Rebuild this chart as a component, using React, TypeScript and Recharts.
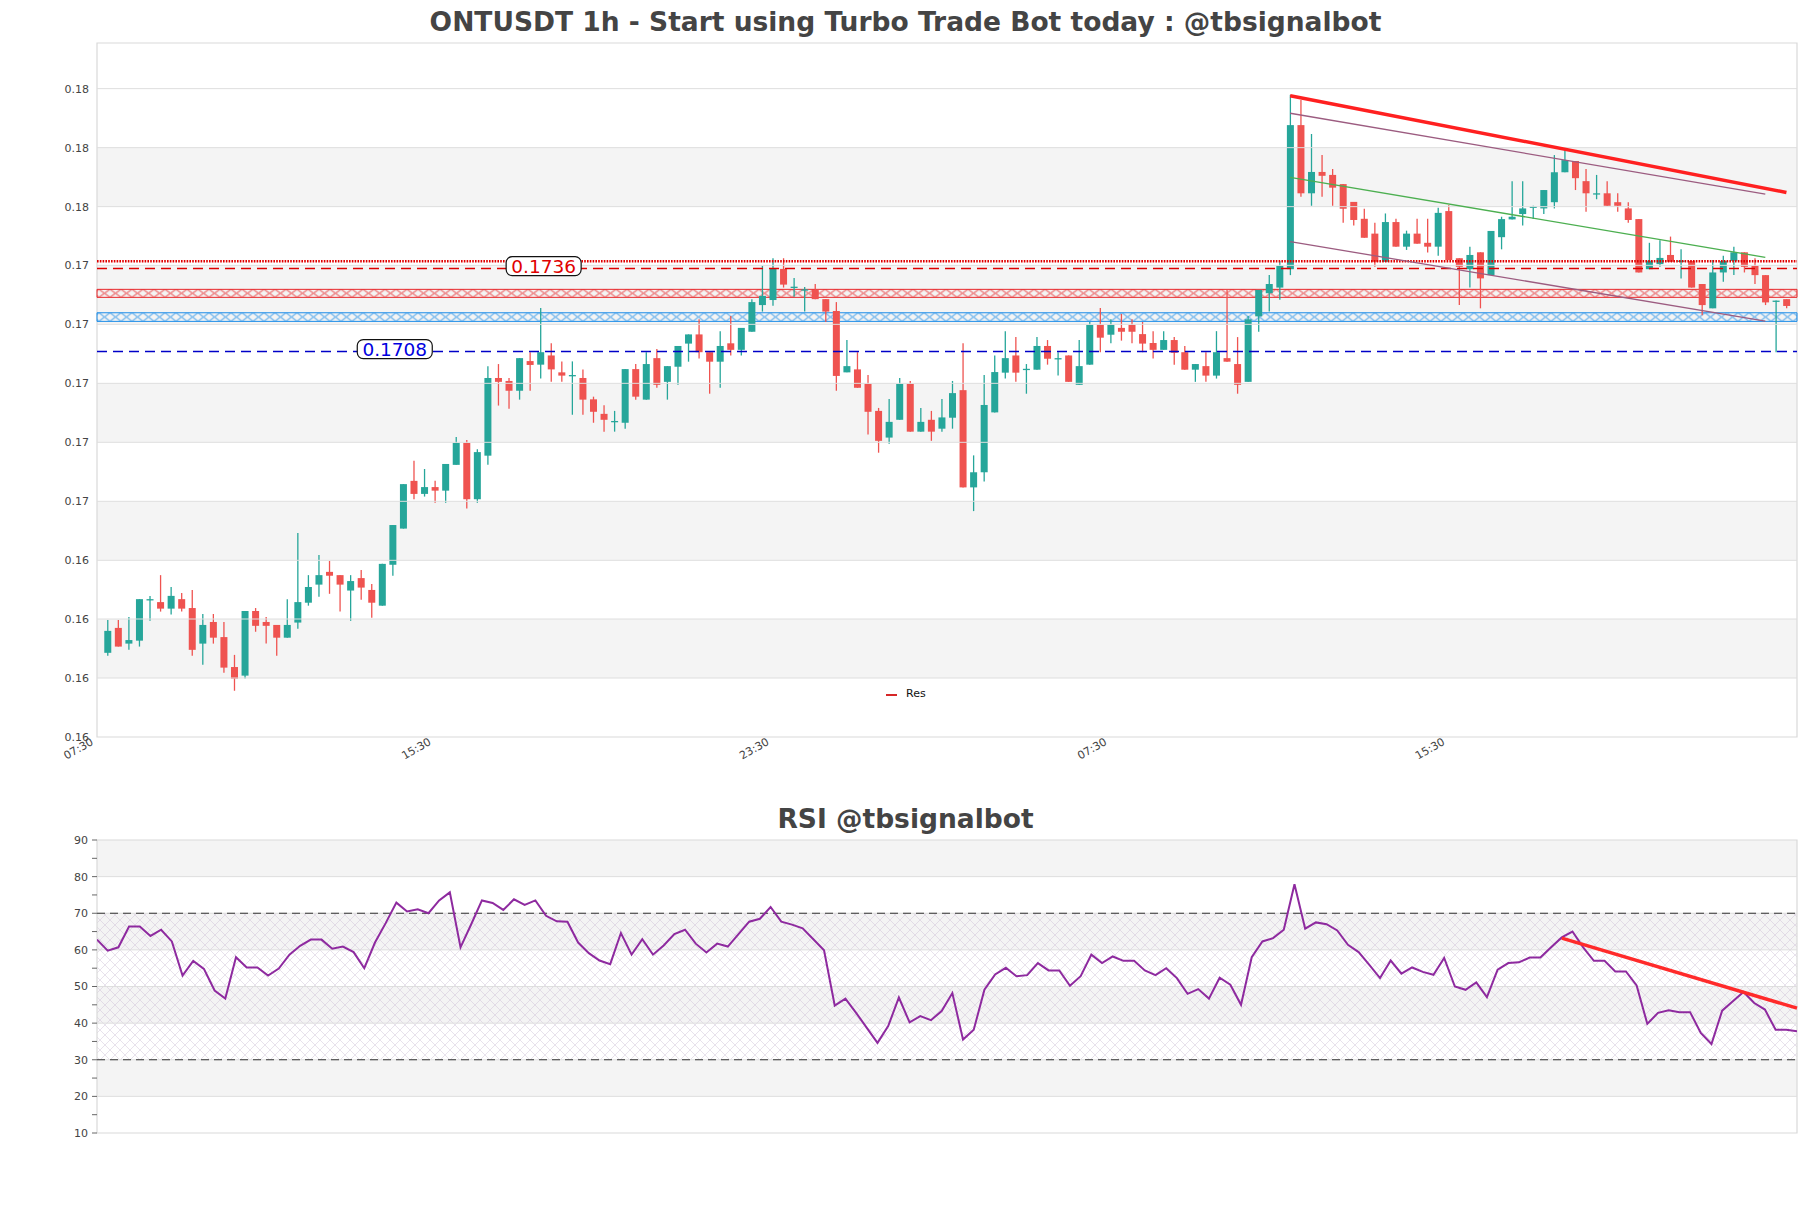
import React from 'react';
import {
  ComposedChart,
  Bar,
  Line,
  XAxis,
  YAxis,
  ReferenceArea,
  ReferenceLine,
  ReferenceDot,
} from 'recharts';

const FONT = '"DejaVu Sans", "Liberation Sans", sans-serif';
const UP = '#26a69a';
const DOWN = '#ef5350';

// ONTUSDT 1h candles, index 1..160 (index 0 = first 07:30 tick)
const OPEN = [
  0.16064, 0.16148, 0.16095, 0.16105, 0.16242, 0.16235, 0.16213, 0.16245, 0.16215, 0.16095,
  0.16168, 0.16117, 0.16016, 0.15987, 0.16205, 0.16168, 0.16158, 0.16115, 0.16166, 0.16233,
  0.16294, 0.16337, 0.16326, 0.16274, 0.16316, 0.16276, 0.16223, 0.16361, 0.16483, 0.16644,
  0.16600, 0.16623, 0.16611, 0.16698, 0.16772, 0.16582, 0.16729, 0.16991, 0.16981, 0.16948,
  0.17048, 0.17036, 0.17067, 0.17010, 0.17000, 0.16991, 0.16919, 0.16870, 0.16844, 0.16840,
  0.17021, 0.16918, 0.17058, 0.16978, 0.17029, 0.17107, 0.17138, 0.17078, 0.17046, 0.17108,
  0.17086, 0.17147, 0.17237, 0.17254, 0.17359, 0.17298, 0.17288, 0.17288, 0.17257, 0.17217,
  0.17010, 0.17020, 0.16971, 0.16880, 0.16790, 0.16850, 0.16971, 0.16810, 0.16850, 0.16820,
  0.16857, 0.16950, 0.16622, 0.16673, 0.16875, 0.17009, 0.17067, 0.17020, 0.17019, 0.17099,
  0.17057, 0.17067, 0.16968, 0.17036, 0.17170, 0.17137, 0.17160, 0.17170, 0.17139, 0.17109,
  0.17086, 0.17119, 0.17078, 0.17019, 0.17031, 0.16999, 0.17058, 0.17038, 0.16978, 0.17199,
  0.17277, 0.17296, 0.17358, 0.17844, 0.17614, 0.17686, 0.17676, 0.17645, 0.17585, 0.17528,
  0.17478, 0.17383, 0.17517, 0.17434, 0.17478, 0.17447, 0.17434, 0.17554, 0.17395, 0.17358,
  0.17415, 0.17338, 0.17466, 0.17526, 0.17544, 0.17568, 0.17563, 0.17584, 0.17685, 0.17723,
  0.17655, 0.17613, 0.17614, 0.17584, 0.17563, 0.17527, 0.17358, 0.17375, 0.17406, 0.17386,
  0.17386, 0.17308, 0.17226, 0.17347, 0.17386, 0.17415, 0.17369, 0.17338, 0.17251, 0.17257,
];
const HIGH = [
  0.16175, 0.16175, 0.16185, 0.16245, 0.16256, 0.16326, 0.16286, 0.16266, 0.16276, 0.16195,
  0.16195, 0.16168, 0.16057, 0.16205, 0.16215, 0.16185, 0.16158, 0.16245, 0.16468, 0.16326,
  0.16394, 0.16374, 0.16326, 0.16326, 0.16343, 0.16296, 0.16364, 0.16495, 0.16633, 0.16712,
  0.16684, 0.16644, 0.16701, 0.16792, 0.16782, 0.16751, 0.17031, 0.17038, 0.16991, 0.17058,
  0.17078, 0.17227, 0.17108, 0.17047, 0.17047, 0.17020, 0.16928, 0.16899, 0.16880, 0.17021,
  0.17038, 0.17078, 0.17089, 0.17031, 0.17099, 0.17138, 0.17189, 0.17078, 0.17149, 0.17200,
  0.17160, 0.17257, 0.17369, 0.17395, 0.17395, 0.17328, 0.17298, 0.17308, 0.17257, 0.17247,
  0.17119, 0.17078, 0.17001, 0.16890, 0.16920, 0.16991, 0.16981, 0.16890, 0.16880, 0.16920,
  0.16981, 0.17108, 0.16730, 0.17001, 0.17067, 0.17149, 0.17129, 0.17038, 0.17129, 0.17119,
  0.17078, 0.17067, 0.17119, 0.17180, 0.17227, 0.17189, 0.17207, 0.17189, 0.17180, 0.17149,
  0.17149, 0.17129, 0.17099, 0.17038, 0.17078, 0.17149, 0.17288, 0.17129, 0.17200, 0.17288,
  0.17338, 0.17386, 0.17946, 0.17929, 0.17814, 0.17743, 0.17696, 0.17645, 0.17585, 0.17562,
  0.17515, 0.17546, 0.17528, 0.17488, 0.17528, 0.17528, 0.17565, 0.17574, 0.17395, 0.17434,
  0.17415, 0.17487, 0.17535, 0.17655, 0.17655, 0.17572, 0.17625, 0.17743, 0.17760, 0.17723,
  0.17696, 0.17676, 0.17655, 0.17614, 0.17584, 0.17527, 0.17447, 0.17456, 0.17468, 0.17425,
  0.17386, 0.17308, 0.17389, 0.17403, 0.17434, 0.17415, 0.17395, 0.17338, 0.17252, 0.17257,
];
const LOW = [
  0.16054, 0.16085, 0.16074, 0.16085, 0.16172, 0.16203, 0.16193, 0.16203, 0.16054, 0.16024,
  0.16095, 0.15997, 0.15936, 0.15977, 0.16135, 0.16095, 0.16054, 0.16115, 0.16145, 0.16223,
  0.16253, 0.16263, 0.16203, 0.16172, 0.16243, 0.16182, 0.16223, 0.16324, 0.16483, 0.16582,
  0.16591, 0.16570, 0.16570, 0.16698, 0.16551, 0.16570, 0.16698, 0.16898, 0.16887, 0.16918,
  0.16948, 0.16989, 0.16978, 0.16978, 0.16867, 0.16867, 0.16840, 0.16810, 0.16810, 0.16820,
  0.16918, 0.16918, 0.16958, 0.16918, 0.16968, 0.17046, 0.17057, 0.16938, 0.16958, 0.17067,
  0.17067, 0.17147, 0.17215, 0.17235, 0.17296, 0.17265, 0.17215, 0.17257, 0.17180, 0.16948,
  0.17010, 0.16958, 0.16800, 0.16739, 0.16769, 0.16850, 0.16810, 0.16810, 0.16779, 0.16810,
  0.16820, 0.16622, 0.16542, 0.16642, 0.16875, 0.16989, 0.16978, 0.16938, 0.17019, 0.17036,
  0.16999, 0.16978, 0.16968, 0.17036, 0.17078, 0.17108, 0.17117, 0.17108, 0.17078, 0.17057,
  0.17086, 0.17036, 0.17019, 0.16978, 0.16978, 0.16989, 0.17046, 0.16938, 0.16978, 0.17147,
  0.17215, 0.17255, 0.17338, 0.17602, 0.17572, 0.17602, 0.17572, 0.17515, 0.17505, 0.17464,
  0.17366, 0.17383, 0.17434, 0.17423, 0.17444, 0.17414, 0.17403, 0.17389, 0.17237, 0.17296,
  0.17226, 0.17338, 0.17425, 0.17526, 0.17505, 0.17527, 0.17544, 0.17563, 0.17685, 0.17625,
  0.17552, 0.17594, 0.17572, 0.17552, 0.17515, 0.17347, 0.17358, 0.17366, 0.17383, 0.17327,
  0.17296, 0.17203, 0.17226, 0.17316, 0.17338, 0.17347, 0.17308, 0.17237, 0.17078, 0.17226,
];
const CLOSE = [
  0.16138, 0.16085, 0.16107, 0.16245, 0.16245, 0.16213, 0.16256, 0.16213, 0.16074, 0.16158,
  0.16115, 0.16014, 0.15977, 0.16205, 0.16155, 0.16155, 0.16115, 0.16158, 0.16235, 0.16286,
  0.16326, 0.16324, 0.16294, 0.16306, 0.16284, 0.16233, 0.16364, 0.16495, 0.16633, 0.16600,
  0.16623, 0.16611, 0.16701, 0.16772, 0.16582, 0.16741, 0.16991, 0.16978, 0.16948, 0.17058,
  0.17035, 0.17078, 0.17020, 0.16999, 0.17001, 0.16918, 0.16877, 0.16850, 0.16846, 0.17021,
  0.16928, 0.17038, 0.16968, 0.17031, 0.17099, 0.17138, 0.17078, 0.17046, 0.17099, 0.17086,
  0.17160, 0.17247, 0.17268, 0.17359, 0.17306, 0.17299, 0.17290, 0.17257, 0.17215, 0.16998,
  0.17031, 0.16958, 0.16877, 0.16779, 0.16843, 0.16971, 0.16810, 0.16843, 0.16810, 0.16858,
  0.16940, 0.16622, 0.16673, 0.16900, 0.17011, 0.17058, 0.17009, 0.17022, 0.17099, 0.17056,
  0.17058, 0.16978, 0.17031, 0.17170, 0.17127, 0.17170, 0.17147, 0.17147, 0.17107, 0.17086,
  0.17119, 0.17076, 0.17019, 0.17038, 0.16999, 0.17078, 0.17046, 0.16968, 0.17189, 0.17288,
  0.17308, 0.17369, 0.17844, 0.17614, 0.17686, 0.17673, 0.17633, 0.17562, 0.17524, 0.17464,
  0.17383, 0.17517, 0.17434, 0.17478, 0.17444, 0.17434, 0.17548, 0.17389, 0.17366, 0.17406,
  0.17327, 0.17487, 0.17527, 0.17535, 0.17563, 0.17569, 0.17625, 0.17685, 0.17726, 0.17665,
  0.17614, 0.17614, 0.17572, 0.17572, 0.17524, 0.17347, 0.17387, 0.17396, 0.17383, 0.17387,
  0.17296, 0.17237, 0.17347, 0.17386, 0.17415, 0.17366, 0.17338, 0.17246, 0.17252, 0.17234,
];

const RSI = [
  62.8, 59.8, 60.7, 66.4, 66.4, 63.8, 65.5, 62.3, 53.0, 57.0,
  54.8, 48.9, 46.7, 58.0, 55.2, 55.2, 53.0, 54.9, 58.7, 61.1,
  62.8, 62.8, 60.3, 60.9, 59.4, 55.0, 62.0, 67.3, 72.9, 70.5,
  71.1, 70.0, 73.5, 75.7, 60.7, 67.0, 73.5, 72.8, 70.9, 73.8,
  72.3, 73.5, 69.3, 67.8, 67.7, 62.0, 59.1, 57.1, 56.1, 64.6,
  58.7, 62.9, 58.7, 61.2, 64.3, 65.5, 61.7, 59.3, 61.7, 60.9,
  64.3, 67.7, 68.5, 71.7, 67.7, 66.9, 65.9, 62.9, 59.9, 44.8,
  46.7, 42.8, 38.7, 34.6, 39.2, 47.0, 40.2, 41.9, 40.8, 43.3,
  48.2, 35.5, 38.2, 49.1, 53.3, 55.1, 52.8, 53.1, 56.4, 54.4,
  54.4, 50.2, 52.8, 58.7, 56.4, 58.2, 57.0, 57.0, 54.4, 53.1,
  55.0, 52.3, 48.0, 49.3, 46.7, 52.4, 50.5, 45.0, 58.0, 62.3,
  63.2, 65.5, 77.9, 65.8, 67.5, 67.0, 65.3, 61.4, 59.4, 55.9,
  52.3, 57.1, 53.5, 55.2, 54.0, 53.2, 57.8, 50.0, 49.1, 51.1,
  47.1, 54.6, 56.4, 56.6, 57.9, 57.9, 60.7, 63.4, 65.0, 60.7,
  57.0, 57.0, 54.1, 54.1, 50.3, 39.8, 42.8, 43.5, 43.0, 43.0,
  37.3, 34.3, 43.4, 46.0, 48.5, 45.5, 43.7, 38.2, 38.2, 37.8,
];

const TIME_TICKS = [0, 32, 64, 96, 128];
const TIME_LABELS = ['07:30', '15:30', '23:30', '07:30', '15:30'];
const X_MAX = 161;

const PRICE_TICKS = [
  0.1578, 0.15979, 0.16178, 0.16376, 0.16575, 0.16774,
  0.16973, 0.17172, 0.17371, 0.17569, 0.17768, 0.17967,
];
const PRICE_MIN = 0.1578;
const PRICE_MAX = 0.18121;

// levels and zones
const RES_DOTTED = 0.17385;
const RES_LEVEL = 0.1736;
const SUP_LEVEL = 0.1708;
const RES_ZONE = [0.17263, 0.1729];
const SUP_ZONE = [0.17182, 0.17211];
const RES_LABEL_AT = 42.3;
const SUP_LABEL_AT = 28.2;

// trend lines [start, end]
const RES_LINE = [{ x: 113, y: 0.17943 }, { x: 160, y: 0.17617 }];
const CHANNEL_TOP = [{ x: 113, y: 0.17884 }, { x: 158, y: 0.17611 }];
const CHANNEL_MID = [{ x: 113, y: 0.17668 }, { x: 158, y: 0.17398 }];
const CHANNEL_LOW = [{ x: 113, y: 0.17451 }, { x: 158, y: 0.17183 }];

const RSI_TICKS = [10, 15, 20, 25, 30, 35, 40, 45, 50, 55, 60, 65, 70, 75, 80, 85, 90];
const RSI_GRID = [20, 30, 40, 50, 60, 70, 80];
const RSI_GRAY = [[80, 90], [60, 70], [40, 50], [20, 30]];
const RSI_TREND = [{ x: 138, y: 63.2 }, { x: 160, y: 44.1 }];

const candles = OPEN.map((o, k) => ({ i: k + 1, o, h: HIGH[k], l: LOW[k], c: CLOSE[k] }));
const rsiData = RSI.map((v, k) => ({ i: k + 1, v }));
const priceBands = [1, 3, 5, 7, 9].map((k) => [PRICE_TICKS[k], PRICE_TICKS[k + 1]]);

function Candle(props: any) {
  const { x, y, width, height, payload } = props;
  if (!payload || x == null || y == null) return null;
  const top = Math.min(y, y + height);
  const span = Math.abs(height);
  const k = payload.h > payload.l ? span / (payload.h - payload.l) : 0;
  const toY = (v: number) => top + (payload.h - v) * k;
  const color = payload.c >= payload.o ? UP : DOWN;
  const bTop = toY(Math.max(payload.o, payload.c));
  const bBot = toY(Math.min(payload.o, payload.c));
  const cx = x + width / 2;
  return (
    <g>
      <line x1={cx} x2={cx} y1={top} y2={top + span} stroke={color} strokeWidth={1.3} />
      <rect x={x} y={bTop} width={width} height={Math.max(1.3, bBot - bTop)} fill={color} />
    </g>
  );
}

function TimeTick(props: any) {
  const { x, y, payload } = props;
  const k = TIME_TICKS.indexOf(payload.value);
  const ax = x - 3;
  const ay = y - 1;
  return (
    <text
      x={ax}
      y={ay}
      transform={`rotate(-30, ${ax}, ${ay})`}
      textAnchor="end"
      fontSize={11}
      fill="#444"
      fontFamily={FONT}
    >
      {TIME_LABELS[k]}
    </text>
  );
}

function PriceTag(props: any) {
  const { cx, cy, text, color } = props;
  if (cx == null || cy == null) return null;
  const w = 75;
  const h = 19;
  const yc = cy - 2.5;
  return (
    <g>
      <rect x={cx - w / 2} y={yc - h / 2} width={w} height={h} rx={6} fill="#fff" stroke="#111" strokeWidth={1.2} />
      <text x={cx} y={yc + 6.5} textAnchor="middle" fontSize={18.5} fill={color} fontFamily={FONT}>
        {text}
      </text>
    </g>
  );
}

export default function App() {
  return (
    <div
      style={{
        position: 'absolute',
        left: 0,
        top: 0,
        width: 1811,
        height: 1208,
        background: '#fff',
        fontFamily: FONT,
        overflow: 'hidden',
      }}
    >
      <svg width={0} height={0} style={{ position: 'absolute' }}>
        <defs>
          <pattern id="hatchRed" patternUnits="userSpaceOnUse" x={0} y={289.3} width={11} height={8}>
            <path d="M-1,-0.7 L12,8.7 M-1,8.7 L12,-0.7" stroke="#e8282b" strokeWidth={1.6} fill="none" />
          </pattern>
          <pattern id="hatchBlue" patternUnits="userSpaceOnUse" x={0} y={312.7} width={11} height={8.6}>
            <path d="M-1,-0.8 L12,9.4 M-1,9.4 L12,-0.8" stroke="#1a8ce8" strokeWidth={1.6} fill="none" />
          </pattern>
          <pattern id="hatchRsi" patternUnits="userSpaceOnUse" x={0} y={0} width={10} height={10}>
            <path d="M0,0 L10,10 M0,10 L10,0" stroke="#c6b6d0" strokeWidth={0.8} fill="none" />
          </pattern>
        </defs>
      </svg>

      <div
        style={{
          position: 'absolute',
          top: 6,
          left: 0,
          width: 1811,
          textAlign: 'center',
          fontSize: 26.5,
          lineHeight: '32px',
          fontWeight: 'bold',
          color: '#444',
        }}
      >
        ONTUSDT 1h - Start using Turbo Trade Bot today : @tbsignalbot
      </div>

      <div style={{ position: 'absolute', top: 0, left: 0 }}>
        <ComposedChart
          width={1811}
          height={780}
          data={candles}
          margin={{ top: 43, right: 14, bottom: 0, left: 0 }}
        >
          <XAxis
            type="number"
            dataKey="i"
            domain={[0, X_MAX]}
            ticks={TIME_TICKS}
            interval={0}
            tick={<TimeTick />}
            tickLine={false}
            axisLine={false}
            height={43}
            allowDataOverflow
          />
          <YAxis
            type="number"
            domain={[PRICE_MIN, PRICE_MAX]}
            ticks={PRICE_TICKS}
            interval={0}
            tickFormatter={(v: number) => v.toFixed(2)}
            tick={{ fill: '#444', fontSize: 11, fontFamily: FONT }}
            tickLine={false}
            axisLine={false}
            width={97}
            allowDataOverflow
          />
          {priceBands.map(([a, b]) => (
            <ReferenceArea key={`band-${a}`} y1={a} y2={b} fill="#000" fillOpacity={0.045} stroke="none" />
          ))}
          {PRICE_TICKS.slice(1).map((v) => (
            <ReferenceLine key={`grid-${v}`} y={v} stroke="#dedede" strokeWidth={1} />
          ))}
          <ReferenceArea
            x1={0}
            x2={X_MAX}
            y1={PRICE_MIN}
            y2={PRICE_MAX}
            fill="none"
            stroke="#d9d9d9"
            strokeWidth={1.2}
          />
          <ReferenceArea y1={RES_ZONE[0]} y2={RES_ZONE[1]} fill="url(#hatchRed)" stroke="#e8282b" strokeWidth={1} />
          <ReferenceArea y1={SUP_ZONE[0]} y2={SUP_ZONE[1]} fill="url(#hatchBlue)" stroke="#1a8ce8" strokeWidth={1} />
          <ReferenceLine y={RES_DOTTED} stroke="#e00000" strokeWidth={2.6} strokeDasharray="1.6 1.2" />
          <ReferenceLine y={RES_LEVEL} stroke="#dd0000" strokeWidth={1.5} strokeDasharray="10 6" />
          <ReferenceLine y={SUP_LEVEL} stroke="#0000c8" strokeWidth={1.5} strokeDasharray="10 6" />
          <Bar
            dataKey={(d: any) => [d.l, d.h]}
            barSize={7}
            shape={Candle}
            isAnimationActive={false}
          />
          <ReferenceLine segment={CHANNEL_TOP} stroke="#9c5c80" strokeWidth={1.3} />
          <ReferenceLine segment={CHANNEL_MID} stroke="#4caf50" strokeWidth={1.3} />
          <ReferenceLine segment={CHANNEL_LOW} stroke="#9c5c80" strokeWidth={1.3} />
          <ReferenceLine segment={RES_LINE} stroke="#ff2020" strokeWidth={3.5} />
          <ReferenceDot
            x={RES_LABEL_AT}
            y={RES_LEVEL}
            r={0}
            shape={(p: any) => <PriceTag {...p} text={RES_LEVEL.toFixed(4)} color="#e00000" />}
          />
          <ReferenceDot
            x={SUP_LABEL_AT}
            y={SUP_LEVEL}
            r={0}
            shape={(p: any) => <PriceTag {...p} text={SUP_LEVEL.toFixed(4)} color="#0000e0" />}
          />
        </ComposedChart>
      </div>

      <div style={{ position: 'absolute', left: 886, top: 694, width: 11, height: 2, background: '#d62728' }} />
      <div style={{ position: 'absolute', left: 906, top: 687, fontSize: 11, lineHeight: '14px', color: '#111' }}>
        Res
      </div>

      <div
        style={{
          position: 'absolute',
          top: 803,
          left: 0,
          width: 1811,
          textAlign: 'center',
          fontSize: 26.5,
          lineHeight: '32px',
          fontWeight: 'bold',
          color: '#444',
        }}
      >
        RSI @tbsignalbot
      </div>

      <div style={{ position: 'absolute', top: 800, left: 0 }}>
        <ComposedChart
          width={1811}
          height={340}
          data={rsiData}
          margin={{ top: 40, right: 14, bottom: 7, left: 0 }}
        >
          <XAxis type="number" dataKey="i" domain={[1, 160]} hide allowDataOverflow />
          <YAxis
            type="number"
            domain={[10, 90]}
            ticks={RSI_TICKS}
            interval={0}
            tickFormatter={(v: number) => (v % 10 === 0 ? String(v) : '')}
            tick={{ fill: '#444', fontSize: 11, fontFamily: FONT }}
            tickLine={{ stroke: '#666' }}
            tickSize={5}
            tickMargin={4}
            axisLine={false}
            width={97}
            allowDataOverflow
          />
          {RSI_GRAY.map(([a, b]) => (
            <ReferenceArea key={`rg-${a}`} y1={a} y2={b} fill="#000" fillOpacity={0.045} stroke="none" />
          ))}
          <ReferenceArea y1={30} y2={70} fill="url(#hatchRsi)" stroke="none" />
          {RSI_GRID.map((v) => (
            <ReferenceLine key={`rgrid-${v}`} y={v} stroke="#dedede" />
          ))}
          <ReferenceArea x1={1} x2={160} y1={10} y2={90} fill="none" stroke="#d9d9d9" strokeWidth={1.2} />
          <ReferenceLine y={70} stroke="#333" strokeWidth={1.2} strokeDasharray="8 5" />
          <ReferenceLine y={30} stroke="#333" strokeWidth={1.2} strokeDasharray="8 5" />
          <Line
            type="linear"
            dataKey="v"
            stroke="#8e2a9f"
            strokeWidth={2}
            dot={false}
            isAnimationActive={false}
          />
          <ReferenceLine segment={RSI_TREND} stroke="#ff2a2a" strokeWidth={3.5} />
        </ComposedChart>
      </div>
    </div>
  );
}
